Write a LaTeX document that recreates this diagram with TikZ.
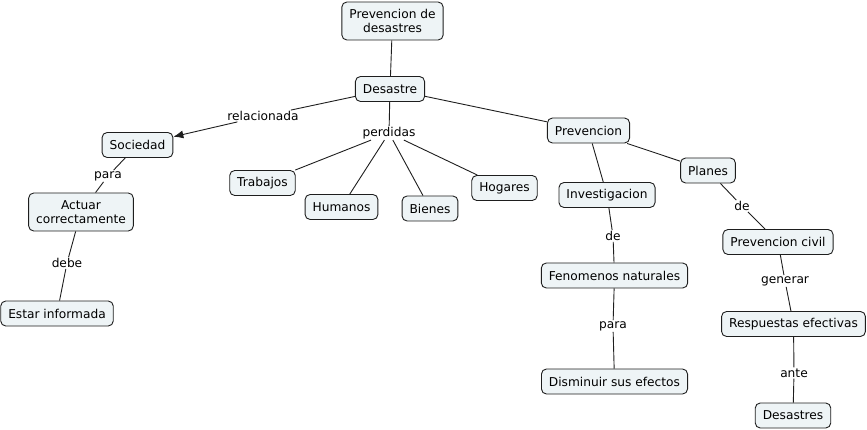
\documentclass[tikz,border=0pt]{standalone}
\usepackage{fontspec}
\setmainfont{DejaVu Sans}
\usetikzlibrary{arrows.meta}
\definecolor{cfill}{RGB}{238,244,246}
\definecolor{cline}{RGB}{30,30,30}
\begin{document}
\begin{tikzpicture}[x=1pt,y=-1pt,
  concept/.style={draw=cline,fill=cfill,rounded corners=5pt,line width=0.9pt,
    inner xsep=7.5pt,inner ysep=2pt,minimum height=25pt,align=center,
    font=\fontsize{12.2}{14}\selectfont},
  lbl/.style={inner sep=1pt,font=\fontsize{12.2}{14}\selectfont},
  link/.style={draw=cline,line width=0.9pt}]
\useasboundingbox (0,0) rectangle (867,430);
\node[concept,minimum height=38pt] (pd) at (392.5,21) {Prevencion de\\desastres};
\node[concept] (des) at (390,89) {Desastre};
\node[concept] (soc) at (137.5,145) {Sociedad};
\node[concept,minimum height=38pt] (act) at (81,212) {Actuar\\correctamente};
\node[concept] (est) at (57,313.5) {Estar informada};
\node[concept] (tra) at (262.5,183) {Trabajos};
\node[concept] (hum) at (341.5,207) {Humanos};
\node[concept] (bie) at (430,208.5) {Bienes};
\node[concept] (hog) at (504.5,188) {Hogares};
\node[concept] (pre) at (588.5,130.5) {Prevencion};
\node[concept] (inv) at (607,195) {Investigacion};
\node[concept] (pla) at (708,170.5) {Planes};
\node[concept] (fen) at (614.5,275.5) {Fenomenos naturales};
\node[concept] (dis) at (614.5,381.5) {Disminuir sus efectos};
\node[concept] (pci) at (778,242) {Prevencion civil};
\node[concept] (res) at (793.5,324) {Respuestas efectivas};
\node[concept] (dss) at (793,415.5) {Desastres};
% link labels
\node[lbl] (lrel) at (263,116) {relacionada};
\node[lbl] (lper) at (389,133) {perdidas};
\node[lbl] (lpara1) at (108,176) {para};
\node[lbl] (ldebe) at (67,263) {debe};
\node[lbl] (lde1) at (613,236) {de};
\node[lbl] (lpara2) at (613,326) {para};
\node[lbl] (lde2) at (742,206) {de};
\node[lbl] (lgen) at (785,281) {generar};
\node[lbl] (lante) at (794,373) {ante};
% connectors
\draw[link] (pd) -- (des);
\draw[link] (des) -- (pre);
\draw[link] (des) -- (lrel);
\draw[link,-{Latex[length=10pt,width=8pt]}] (lrel) -- (soc);
\draw[link] (des) -- (lper);
\draw[link] (lper) -- (tra);
\draw[link] (lper) -- (hum);
\draw[link] (lper) -- (bie);
\draw[link] (lper) -- (hog);
\draw[link] (soc) -- (lpara1);
\draw[link] (lpara1) -- (act);
\draw[link] (act) -- (ldebe);
\draw[link] (ldebe) -- (est);
\draw[link] (pre) -- (inv);
\draw[link] (pre) -- (pla);
\draw[link] (inv) -- (lde1);
\draw[link] (lde1) -- (fen);
\draw[link] (fen) -- (lpara2);
\draw[link] (lpara2) -- (dis);
\draw[link] (pla) -- (lde2);
\draw[link] (lde2) -- (pci);
\draw[link] (pci) -- (lgen);
\draw[link] (lgen) -- (res);
\draw[link] (res) -- (lante);
\draw[link] (lante) -- (dss);
\end{tikzpicture}
\end{document}
